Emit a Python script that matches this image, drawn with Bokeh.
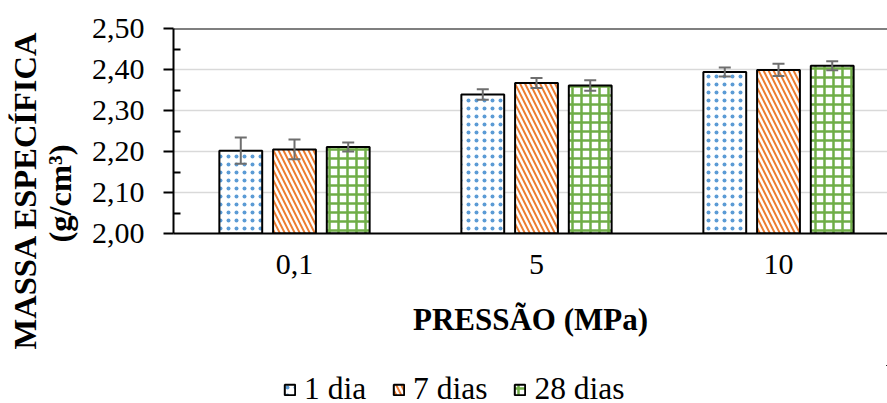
import numpy as np
from bokeh.plotting import figure
from bokeh.layouts import column
from bokeh.models import (Range1d, FixedTicker, CustomJSTickFormatter, Whisker, ColumnDataSource,
                          Legend, LegendItem, Span, TeeHead, Title)
from bokeh.embed import file_html
from bokeh.resources import INLINE

# ---- data ----
categories = ["0,1", "5", "10"]
series = ["1 dia", "7 dias", "28 dias"]
dens_1 = [2.202, 2.339, 2.394]
dens_7 = [2.205, 2.367, 2.399]
dens_28 = [2.211, 2.361, 2.409]
err_1 = [0.032, 0.013, 0.011]
err_7 = [0.024, 0.012, 0.015]
err_28 = [0.011, 0.013, 0.011]
y_ticks = [2.0, 2.1, 2.2, 2.3, 2.4, 2.5]
y_minor = [2.05, 2.15, 2.25, 2.35, 2.45]
grid_ticks = [2.1, 2.2, 2.3, 2.4]
y_title_1 = "MASSA ESPECÍFICA"
y_title_2 = "(g/cm³)"
x_title = "PRESSÃO (MPa)"

# ---- styles ----
colors = ["#5B9BD5", "#ED7D31", "#70AD47"]
patterns = ["dot", "left_diagonal_line", "cross"]
scales = [8, 10, 9]
weights = [2.5, 2, 2.5]
offsets = [-0.222, 0.0, 0.222]
FONT = "Liberation Serif"

x0, x1 = -0.5, 2.4504
p = figure(width=887, height=365, output_backend="svg", toolbar_location=None,
           x_range=Range1d(x0, x1), y_range=Range1d(y_ticks[0], y_ticks[-1]),
           min_border_left=173, min_border_right=0, min_border_top=28, min_border_bottom=132)
p.outline_line_color = None
p.background_fill_color = "white"
p.xgrid.visible = False
p.ygrid.ticker = FixedTicker(ticks=grid_ticks)
p.ygrid.grid_line_color = "#d9d9d9"
p.ygrid.grid_line_width = 1.5

# legend strip below the chart (its proxy bars lie outside its own ranges, so only the legend shows)
lg = figure(width=887, height=38, output_backend="svg", toolbar_location=None,
            x_range=Range1d(-100, -99), y_range=Range1d(-100, -99),
            min_border_left=0, min_border_right=0, min_border_top=0, min_border_bottom=0)
lg.outline_line_color = None
lg.axis.visible = False
lg.grid.visible = False

xs = np.arange(len(categories))
items = []
for vals, errs, name, col, pat, sc, wt, off in zip([dens_1, dens_7, dens_28], [err_1, err_7, err_28], series,
                                                  colors, patterns, scales, weights, offsets):
    v = np.array(vals)
    e = np.array(errs)
    src = ColumnDataSource(dict(x=xs + off, top=v, upper=v + e, lower=v - e))
    style = dict(fill_color="white", line_color="black", line_width=2,
                 hatch_pattern=pat, hatch_color=col, hatch_scale=sc, hatch_weight=wt)
    p.vbar(x="x", top="top", bottom=y_ticks[0], width=0.177, source=src, **style)
    w = Whisker(base="x", upper="upper", lower="lower", source=src, level="annotation",
                line_color="#6e6e6e", line_width=2,
                upper_head=TeeHead(size=12, line_color="#6e6e6e", line_width=2),
                lower_head=TeeHead(size=12, line_color="#6e6e6e", line_width=2))
    p.add_layout(w)
    proxy = lg.vbar(x="x", top="top", bottom=y_ticks[0], width=0.177, source=src, **style)
    items.append(LegendItem(label=name, renderers=[proxy]))

p.add_layout(Span(location=y_ticks[-1], dimension="width", line_color="black", line_width=2))

# x axis
p.xaxis.ticker = FixedTicker(ticks=[int(i) for i in xs])
p.xaxis.major_label_overrides = {int(i): c for i, c in enumerate(categories)}
p.xaxis.axis_line_color = "black"
p.xaxis.axis_line_width = 2
p.xaxis.major_tick_line_color = None
p.xaxis.minor_tick_line_color = None
p.xaxis.major_label_text_font = FONT
p.xaxis.major_label_text_font_size = "30px"
p.xaxis.major_label_text_color = "black"
p.xaxis.major_label_standoff = 15
p.xaxis.axis_label = x_title
p.xaxis.axis_label_text_font = FONT
p.xaxis.axis_label_text_font_size = "31px"
p.xaxis.axis_label_text_font_style = "bold"
p.xaxis.axis_label_text_color = "black"
p.xaxis.axis_label_standoff = 25

# y axis
p.yaxis.ticker = FixedTicker(ticks=y_ticks, minor_ticks=y_minor)
p.yaxis.formatter = CustomJSTickFormatter(code="return tick.toFixed(2).replace('.', ',');")
p.yaxis.axis_line_color = "black"
p.yaxis.axis_line_width = 2
p.yaxis.major_tick_out = 10
p.yaxis.major_tick_in = 0
p.yaxis.major_tick_line_width = 2
p.yaxis.minor_tick_in = 7
p.yaxis.minor_tick_out = 0
p.yaxis.minor_tick_line_width = 2
p.yaxis.minor_tick_line_color = "black"
p.yaxis.major_label_text_font = FONT
p.yaxis.major_label_text_font_size = "30px"
p.yaxis.major_label_text_color = "black"
p.yaxis.major_label_standoff = 19

# y title (two lines) in the left side panel
gap = Title(text=" ", text_font_size="1px", standoff=7)
t2 = Title(text=y_title_2, align="left", offset=-9, standoff=0, vertical_align="middle",
           text_font=FONT, text_font_size="32.5px", text_font_style="bold", text_color="black")
t1 = Title(text=y_title_1, align="left", offset=-116, standoff=-6, vertical_align="middle",
           text_font=FONT, text_font_size="32.5px", text_font_style="bold", text_color="black")
p.add_layout(gap, "left")
p.add_layout(t2, "left")
p.add_layout(t1, "left")

legend = Legend(items=items, orientation="horizontal", location=(110, -4),
                label_text_font=FONT, label_text_font_size="31.5px", label_text_color="black",
                glyph_width=13, glyph_height=13, label_standoff=8, spacing=26,
                padding=0, margin=0, border_line_color=None, background_fill_alpha=0)
lg.add_layout(legend)

open("out.html", "w").write(file_html(column(p, lg, spacing=0), INLINE))
